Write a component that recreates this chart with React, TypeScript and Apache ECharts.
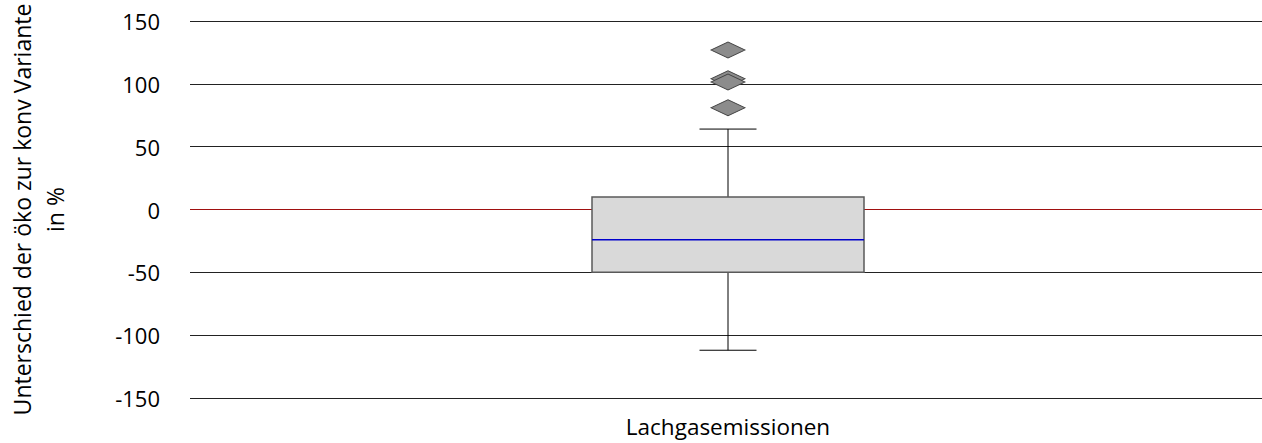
import React, { useEffect, useRef } from "react";
import * as echarts from "echarts";

const categories = ["Lachgasemissionen"];
// [low whisker, Q1, median, Q3, high whisker]
const boxStats = [[-112, -50, -24, 10, 64]];
const outliers = [127, 104, 101.5, 81];
const yTicks = { min: -150, max: 150, interval: 50 };

export default function App() {
  const ref = useRef<HTMLDivElement>(null);
  useEffect(() => {
    const chart = echarts.init(ref.current!, null, { renderer: "svg" });
    const font = "'Open Sans', sans-serif";
    chart.setOption({
      animation: false,
      grid: { left: 190, right: -4, top: 21, bottom: 45, containLabel: false, outerBoundsMode: "none" },
      xAxis: {
        type: "category",
        data: categories,
        axisLine: { show: false },
        axisTick: { show: false },
        axisLabel: { fontFamily: font, fontSize: 22.5, color: "#000", margin: 17 },
      },
      yAxis: {
        type: "value",
        min: yTicks.min,
        max: yTicks.max,
        interval: yTicks.interval,
        axisLine: { show: false },
        axisTick: { show: false },
        axisLabel: { fontFamily: font, fontSize: 22, color: "#000", margin: 30 },
        splitLine: {
          lineStyle: {
            color: ["#222", "#222", "#222", "#a01010", "#222", "#222", "#222"],
            width: 1,
          },
        },
        name: "Unterschied der öko zur konv Variante\nin %",
        nameLocation: "middle",
        nameRotate: 90,
        nameGap: 119,
        nameTextStyle: { fontFamily: font, fontSize: 23, color: "#000", lineHeight: 33 },
      },
      series: [
        {
          type: "custom",
          data: boxStats.map((s, i) => [i, ...s]),
          renderItem: (params: any, api: any) => {
            const x = api.value(0);
            const low = api.coord([x, api.value(1)]);
            const q1 = api.coord([x, api.value(2)]);
            const med = api.coord([x, api.value(3)]);
            const q3 = api.coord([x, api.value(4)]);
            const high = api.coord([x, api.value(5)]);
            const cx = low[0];
            const hw = 136;
            const cw = 28.5;
            return {
              type: "group",
              children: [
                { type: "line", shape: { x1: cx, y1: high[1], x2: cx, y2: q3[1] }, style: { stroke: "#000", lineWidth: 1 } },
                { type: "line", shape: { x1: cx, y1: q1[1], x2: cx, y2: low[1] }, style: { stroke: "#000", lineWidth: 1 } },
                { type: "line", shape: { x1: cx - cw, y1: high[1], x2: cx + cw, y2: high[1] }, style: { stroke: "#000", lineWidth: 1 } },
                { type: "line", shape: { x1: cx - cw, y1: low[1], x2: cx + cw, y2: low[1] }, style: { stroke: "#000", lineWidth: 1 } },
                { type: "rect", shape: { x: cx - hw, y: q3[1], width: hw * 2, height: q1[1] - q3[1] }, style: { fill: "#d9d9d9", stroke: "#595959", lineWidth: 1.5 } },
                { type: "line", shape: { x1: cx - hw, y1: med[1], x2: cx + hw, y2: med[1] }, style: { stroke: "#0000cc", lineWidth: 1.5 } },
              ],
            };
          },
          z: 2,
        },
        {
          type: "scatter",
          data: outliers.map((v) => [0, v]),
          symbol: "diamond",
          symbolSize: [34, 16],
          itemStyle: { color: "#8c8c8c", borderColor: "#404040", borderWidth: 1, opacity: 1 },
          z: 3,
        },
      ],
    });
    return () => chart.dispose();
  }, []);
  return (
    <div
      ref={ref}
      style={{ position: "fixed", left: 0, top: 0, width: 1262, height: 443, background: "#fff" }}
    />
  );
}
